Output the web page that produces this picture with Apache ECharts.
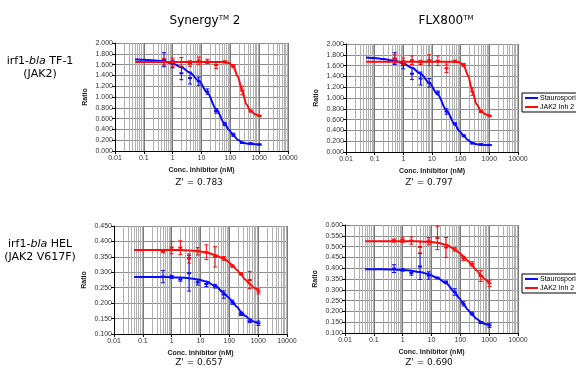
<!DOCTYPE html>
<html>
<head>
<meta charset="utf-8">
<script src="https://cdn.jsdelivr.net/npm/echarts@6/dist/echarts.min.js"></script>
<style>
  html, body { margin: 0; padding: 0; background: #fff; }
  #chart { width: 576px; height: 368px; }
</style>
</head>
<body>
<div id="chart"></div>
<script>
// dilution series (nM) and the x points
const conc = [0.5, 1, 2, 4, 8, 16, 32, 64, 128, 256, 512, 1024];
const fitX = [0.05, 0.1, 0.2, 0.5, 1, 2, 4, 8, 16, 32, 64, 90, 128, 181, 256, 362, 512, 724, 1024];
const xTicks = [0.01, 0.1, 1, 10, 100, 1000, 10000];

// Synergy 2, TF-1
const synTfBlueFit = [1.70, 1.69, 1.68, 1.66, 1.62, 1.55, 1.45, 1.30, 1.08, 0.78, 0.50, 0.39, 0.29, 0.21, 0.16, 0.14, 0.13, 0.125, 0.12];
const synTfRedFit = [1.65, 1.65, 1.65, 1.65, 1.65, 1.65, 1.65, 1.65, 1.65, 1.65, 1.65, 1.63, 1.56, 1.38, 1.12, 0.86, 0.74, 0.68, 0.65];
const synTfBlue = [1.69, 1.61, 1.44, 1.35, 1.29, 1.10, 0.74, 0.50, 0.30, 0.15, 0.14, 0.12];
const synTfBlueErr = [0.13, 0.07, 0.12, 0.11, 0.08, 0.05, 0.04, 0.03, 0.03, 0.01, 0.01, 0.01];
const synTfRed = [1.65, 1.64, 1.65, 1.62, 1.67, 1.66, 1.59, 1.65, 1.57, 1.12, 0.74, 0.65];
const synTfRedErr = [0.06, 0.08, 0.08, 0.05, 0.07, 0.04, 0.06, 0.02, 0.03, 0.08, 0.02, 0.01];

// FLX800, TF-1
const flxTfBlueFit = [1.75, 1.74, 1.72, 1.69, 1.64, 1.56, 1.45, 1.28, 1.06, 0.77, 0.50, 0.39, 0.30, 0.22, 0.17, 0.145, 0.135, 0.13, 0.125];
const flxTfRedFit = [1.67, 1.67, 1.67, 1.67, 1.67, 1.67, 1.67, 1.67, 1.67, 1.67, 1.67, 1.66, 1.60, 1.42, 1.12, 0.88, 0.76, 0.70, 0.67];
const flxTfBlue = [1.73, 1.61, 1.45, 1.36, 1.28, 1.10, 0.75, 0.52, 0.30, 0.16, 0.14, 0.13];
const flxTfBlueErr = [0.11, 0.07, 0.11, 0.12, 0.08, 0.03, 0.05, 0.02, 0.02, 0.01, 0.01, 0.01];
const flxTfRed = [1.72, 1.68, 1.70, 1.66, 1.70, 1.69, 1.55, 1.68, 1.61, 1.12, 0.75, 0.67];
const flxTfRedErr = [0.08, 0.06, 0.08, 0.04, 0.10, 0.09, 0.08, 0.02, 0.03, 0.07, 0.02, 0.01];

// Synergy 2, HEL
const synHelBlueFit = [0.285, 0.285, 0.285, 0.285, 0.284, 0.283, 0.281, 0.277, 0.270, 0.256, 0.234, 0.220, 0.205, 0.188, 0.172, 0.158, 0.148, 0.140, 0.135];
const synHelRedFit = [0.372, 0.372, 0.372, 0.372, 0.372, 0.372, 0.371, 0.369, 0.364, 0.356, 0.344, 0.335, 0.323, 0.308, 0.292, 0.276, 0.262, 0.250, 0.240];
const synHelBlue = [0.286, 0.285, 0.277, 0.297, 0.268, 0.262, 0.255, 0.228, 0.203, 0.165, 0.140, 0.135];
const synHelBlueErr = [0.020, 0.005, 0.006, 0.058, 0.009, 0.008, 0.006, 0.012, 0.007, 0.005, 0.003, 0.007];
const synHelRed = [0.368, 0.380, 0.380, 0.345, 0.368, 0.365, 0.350, 0.345, 0.320, 0.295, 0.275, 0.238];
const synHelRedErr = [0.005, 0.020, 0.022, 0.015, 0.012, 0.024, 0.033, 0.006, 0.004, 0.004, 0.028, 0.008];

// FLX800, HEL
const flxHelBlueFit = [0.395, 0.395, 0.395, 0.394, 0.392, 0.388, 0.382, 0.372, 0.355, 0.330, 0.290, 0.262, 0.235, 0.208, 0.185, 0.166, 0.152, 0.142, 0.136];
const flxHelRedFit = [0.525, 0.525, 0.525, 0.525, 0.525, 0.525, 0.524, 0.522, 0.518, 0.508, 0.488, 0.472, 0.455, 0.434, 0.412, 0.390, 0.368, 0.348, 0.330];
const flxHelBlue = [0.398, 0.392, 0.378, 0.408, 0.366, 0.355, 0.335, 0.290, 0.235, 0.190, 0.148, 0.135];
const flxHelBlueErr = [0.018, 0.006, 0.010, 0.060, 0.017, 0.004, 0.006, 0.015, 0.010, 0.007, 0.004, 0.010];
const flxHelRed = [0.528, 0.532, 0.528, 0.498, 0.525, 0.540, 0.496, 0.487, 0.445, 0.420, 0.364, 0.330];
const flxHelRedErr = [0.007, 0.012, 0.017, 0.027, 0.017, 0.054, 0.046, 0.008, 0.010, 0.010, 0.025, 0.015];

const zPrime = ["Z' = 0.783", "Z' = 0.797", "Z' = 0.657", "Z' = 0.690"];

const BLUE = '#0a0aff';
const RED = '#ff0a0a';
const FONT = '"Liberation Sans", Arial, sans-serif';
const TFONT = '"DejaVu Sans", Verdana, sans-serif';

// minor log gridline positions (2..9 in each decade)
const minorX = [];
for (let e = -2; e < 4; e++) {
  for (let m = 2; m <= 9; m++) minorX.push(+(m * Math.pow(10, e)).toPrecision(3));
}

const grids = [
  { left: 115, top: 43, width: 173, height: 108 },
  { left: 346, top: 44, width: 172, height: 108 },
  { left: 114, top: 226, width: 173, height: 108 },
  { left: 345, top: 225, width: 173, height: 108 }
];
const yRanges = [[0, 2, 0.2], [0, 2, 0.2], [0.1, 0.45, 0.05], [0.1, 0.6, 0.05]];

const panels = [
  [synTfBlueFit, synTfRedFit, synTfBlue, synTfBlueErr, synTfRed, synTfRedErr],
  [flxTfBlueFit, flxTfRedFit, flxTfBlue, flxTfBlueErr, flxTfRed, flxTfRedErr],
  [synHelBlueFit, synHelRedFit, synHelBlue, synHelBlueErr, synHelRed, synHelRedErr],
  [flxHelBlueFit, flxHelRedFit, flxHelBlue, flxHelBlueErr, flxHelRed, flxHelRedErr]
];

const xAxes = grids.map((g, i) => ({
  type: 'log',
  logBase: 10,
  gridIndex: i,
  min: xTicks[0],
  max: xTicks[xTicks.length - 1],
  name: 'Conc. Inhibitor (nM)',
  nameLocation: 'middle',
  nameGap: 16,
  nameTextStyle: { fontFamily: FONT, fontSize: 7, fontWeight: 'bold', color: '#222' },
  axisLine: { lineStyle: { color: '#000', width: 1 } },
  axisTick: { show: true, length: 3, lineStyle: { color: '#000' } },
  axisLabel: {
    fontFamily: FONT, fontSize: 7, color: '#333', margin: 4,
    formatter: v => String(+(+v).toPrecision(3))
  },
  splitLine: { show: true, lineStyle: { color: '#7a7a7a', width: 1 } }
}));

const yAxes = grids.map((g, i) => ({
  type: 'value',
  gridIndex: i,
  min: yRanges[i][0],
  max: yRanges[i][1],
  interval: yRanges[i][2],
  name: 'Ratio',
  nameLocation: 'middle',
  nameRotate: 90,
  nameGap: 26,
  nameTextStyle: { fontFamily: FONT, fontSize: 7, fontWeight: 'bold', color: '#222' },
  axisLine: { show: true, lineStyle: { color: '#000', width: 1 } },
  axisTick: { show: true, length: 3, lineStyle: { color: '#000' } },
  axisLabel: { fontFamily: FONT, fontSize: 7, color: '#333', margin: 2, formatter: v => v.toFixed(3) },
  splitLine: { show: true, lineStyle: { color: '#8c8c8c', width: 1 } }
}));

function minorGridSeries(i) {
  return {
    type: 'custom',
    xAxisIndex: i, yAxisIndex: i,
    silent: true, z: 1,
    data: minorX.map(x => [x, yRanges[i][0]]),
    renderItem: (params, api) => {
      const px = Math.round(api.coord([api.value(0), api.value(1)])[0]) + 0.5;
      const cs = params.coordSys;
      return {
        type: 'line',
        shape: { x1: px, y1: cs.y, x2: px, y2: cs.y + cs.height },
        style: { stroke: '#b0b0b0', lineWidth: 1 }
      };
    }
  };
}

function errorSeries(i, means, errs, color) {
  return {
    type: 'custom',
    xAxisIndex: i, yAxisIndex: i,
    silent: true, z: 4,
    data: conc.map((c, k) => [c, means[k], errs[k]]),
    renderItem: (params, api) => {
      const x = api.value(0), y = api.value(1), e = api.value(2);
      const hi = api.coord([x, y + e]);
      const lo = api.coord([x, y - e]);
      const mid = api.coord([x, y]);
      const s = { stroke: color, lineWidth: 1 };
      return {
        type: 'group',
        children: [
          { type: 'line', shape: { x1: hi[0], y1: hi[1], x2: lo[0], y2: lo[1] }, style: s },
          { type: 'line', shape: { x1: hi[0] - 2, y1: hi[1], x2: hi[0] + 2, y2: hi[1] }, style: s },
          { type: 'line', shape: { x1: lo[0] - 2, y1: lo[1], x2: lo[0] + 2, y2: lo[1] }, style: s },
          { type: 'line', shape: { x1: mid[0] - 2, y1: mid[1], x2: mid[0] + 2, y2: mid[1] }, style: { stroke: color, lineWidth: 2 } }
        ]
      };
    }
  };
}

function curveSeries(i, name, ys, color) {
  return {
    type: 'line',
    name: name,
    xAxisIndex: i, yAxisIndex: i,
    data: fitX.map((x, k) => [x, ys[k]]),
    smooth: 0.3,
    smoothMonotone: 'x',
    showSymbol: false,
    silent: true,
    z: 3,
    color: color,
    lineStyle: { color: color, width: 2 }
  };
}

const series = [];
panels.forEach((p, i) => {
  series.push(minorGridSeries(i));
  series.push(curveSeries(i, 'Staurosporine', p[0], BLUE));
  series.push(curveSeries(i, 'JAK2 Inh 2', p[1], RED));
  series.push(errorSeries(i, p[2], p[3], BLUE));
  series.push(errorSeries(i, p[4], p[5], RED));
});

const legendBase = {
  data: ['Staurosporine', 'JAK2 Inh 2'],
  orient: 'vertical',
  left: 522,
  icon: 'rect',
  itemWidth: 13,
  itemHeight: 2,
  itemGap: 1,
  padding: [1, 2, 1, 3],
  borderColor: '#000',
  borderWidth: 1,
  textStyle: { fontFamily: FONT, fontSize: 7, lineHeight: 8, color: '#000', padding: [0, 0, 0, -3] }
};

const titleStyle = {
  rich: {
    a: { fontFamily: TFONT, fontSize: 12, color: '#111' },
    s: { fontFamily: TFONT, fontSize: 7, color: '#111', verticalAlign: 'top', padding: [0, 0, 6, 0] },
    i: { fontFamily: TFONT, fontSize: 11, color: '#111', fontStyle: 'italic' },
    b: { fontFamily: TFONT, fontSize: 11, color: '#111' }
  }
};

function label(x, y, text) {
  return {
    type: 'text', x: x, y: y,
    style: Object.assign({ text: text, align: 'center', verticalAlign: 'middle' }, titleStyle)
  };
}

const graphics = [
  label(205, 21, '{a|Synergy}{s|TM}{a| 2}'),
  label(446, 21, '{a|FLX800}{s|TM}'),
  label(40, 61, '{b|irf1-}{i|bla}{b| TF-1}'),
  label(40, 74, '{b|(JAK2)}'),
  label(40, 244, '{b|irf1-}{i|bla}{b| HEL}'),
  label(40, 257, '{b|(JAK2 V617F)}')
];
const zPos = [[199, 183], [429, 183], [199, 363], [429, 363]];
zPrime.forEach((t, i) => {
  graphics.push({
    type: 'text', x: zPos[i][0], y: zPos[i][1],
    style: { text: t, align: 'center', verticalAlign: 'middle', fontFamily: TFONT, fontSize: 9, fill: '#111' }
  });
});

const chart = echarts.init(document.getElementById('chart'), null, { renderer: 'canvas' });
chart.setOption({
  animation: false,
  backgroundColor: '#fff',
  grid: grids,
  xAxis: xAxes,
  yAxis: yAxes,
  legend: [
    Object.assign({ top: 93 }, legendBase),
    Object.assign({ top: 274 }, legendBase)
  ],
  graphic: graphics,
  series: series
});
</script>
</body>
</html>
